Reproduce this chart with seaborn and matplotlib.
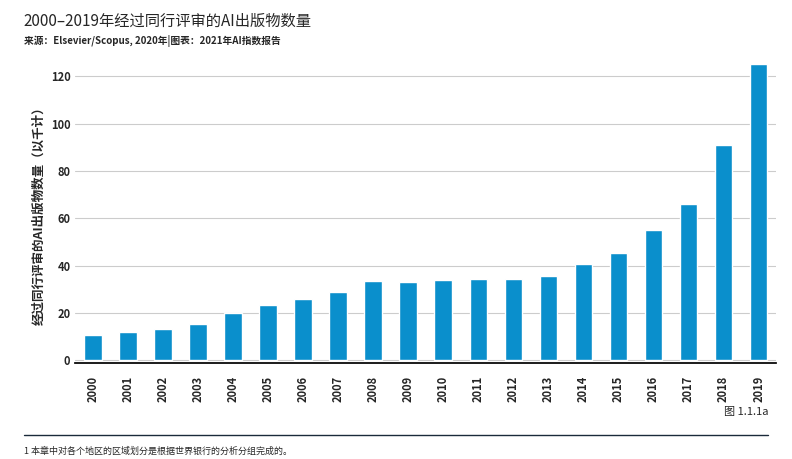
import matplotlib
matplotlib.use("Agg")
import matplotlib.pyplot as plt
import seaborn as sns
import pandas as pd

years = [str(y) for y in range(2000, 2020)]
values = [10.5, 12.0, 13.3, 15.5, 20.0, 23.5, 26.0, 29.0, 33.3, 33.2,
          34.0, 34.5, 34.2, 35.5, 40.5, 45.2, 55.0, 66.0, 91.0, 125.0]

sns.set_theme(style="white")
plt.rcParams['font.family'] = ['Noto Sans CJK SC', 'DejaVu Sans']

fig = plt.figure(figsize=(7.92, 4.59), dpi=100)
ax = fig.add_axes([0.095, 0.21, 0.885, 0.655])
df = pd.DataFrame({"year": years, "v": values})
sns.barplot(data=df, x="year", y="v", color="#0a8fcc", saturation=1, width=0.5, ax=ax)
ax.set_ylim(-1, 126)
ax.set_yticks([0, 20, 40, 60, 80, 100, 120])
ax.yaxis.grid(True, color="#cccccc", linewidth=0.8)
ax.set_axisbelow(True)
for s in ["top", "right", "left"]:
    ax.spines[s].set_visible(False)
ax.spines["bottom"].set_color("black")
ax.set_xlabel("")
ax.set_ylabel("经过同行评审的AI出版物数量（以千计）", fontsize=9, fontweight="bold")
ax.tick_params(axis="x", rotation=90, labelsize=8)
ax.tick_params(axis="y", labelsize=8, length=0)
for t in ax.get_xticklabels() + ax.get_yticklabels():
    t.set_fontweight("bold")

fig.text(0.03, 0.945, "2000–2019年经过同行评审的AI出版物数量", fontsize=11)
fig.text(0.03, 0.905, "来源：Elsevier/Scopus, 2020年|图表：2021年AI指数报告", fontsize=7, fontweight="bold")
fig.text(0.97, 0.095, "图 1.1.1a", fontsize=8, ha="right")
fig.add_artist(plt.Line2D([0.03, 0.97], [0.052, 0.052], color="#1a2a3a", linewidth=1))
fig.text(0.03, 0.012, "1 本章中对各个地区的区域划分是根据世界银行的分析分组完成的。", fontsize=6.5)
fig.savefig("out.png", dpi=100)
